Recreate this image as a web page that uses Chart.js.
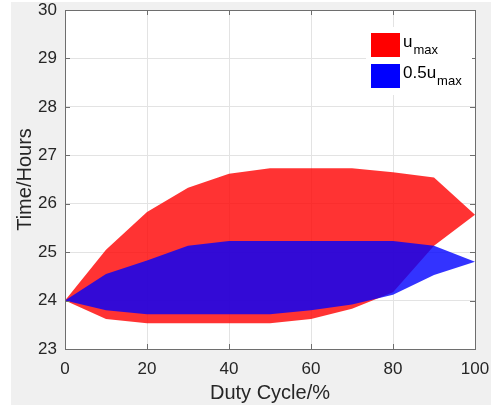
<!DOCTYPE html>
<html>
<head>
<meta charset="utf-8">
<script src="https://cdn.jsdelivr.net/npm/chart.js@4/dist/chart.umd.min.js"></script>
<style>
  html, body { margin:0; padding:0; background:#fff; }
  #wrap { position:relative; width:496px; height:411px; }
  #bg   { position:absolute; left:11px; top:2px; width:480px; height:403px; background:#f0f0f0; }
  #c    { position:absolute; left:0; top:0; }
</style>
</head>
<body>
<div id="wrap">
  <div id="bg"></div>
  <canvas id="c" width="496" height="411"></canvas>
</div>
<script>
/* ── Data ──────────────────────────────────────────────────────── */
const dutyCycle = [0, 10, 20, 30, 40, 50, 60, 70, 80, 90, 100];
const redUpper  = [24, 25.05, 25.83, 26.33, 26.62, 26.73, 26.73, 26.73, 26.65, 26.54, 25.77];
const redLower  = [24, 23.62, 23.53, 23.53, 23.53, 23.53, 23.62, 23.83, 24.17, 25.13, 25.77];
const blueUpper = [24, 24.55, 24.83, 25.13, 25.23, 25.23, 25.23, 25.23, 25.23, 25.13, 24.80];
const blueLower = [24, 23.80, 23.72, 23.72, 23.72, 23.72, 23.80, 23.92, 24.12, 24.53, 24.80];
const xTicks    = [0, 20, 40, 60, 80, 100];
const yTicks    = [23, 24, 25, 26, 27, 28, 29, 30];

const FONT = "'Liberation Sans', Arial, Helvetica, sans-serif";
const INK  = '#262626';
const RED  = 'rgba(255,0,0,0.8)', BLUE = 'rgba(0,0,255,0.8)';

const pts = ys => dutyCycle.map((x, i) => ({ x, y: ys[i] }));
const band = (data, fill, color) => ({
  data: pts(data), fill, backgroundColor: color,
  borderWidth: 0, borderColor: 'transparent', pointRadius: 0, tension: 0
});

/* ── MATLAB-style frame: white plot area, box, inward ticks, legend ── */
const frame = {
  id: 'frame',
  beforeDraw(chart) {
    const { ctx, chartArea: a } = chart;
    ctx.save(); ctx.fillStyle = '#fff';
    ctx.fillRect(a.left, a.top, a.right - a.left, a.bottom - a.top);
    ctx.restore();
  },
  afterDraw(chart) {
    const { ctx, chartArea: a, scales: { x, y } } = chart;
    ctx.save();
    ctx.strokeStyle = '#6e6e6e'; ctx.lineWidth = 1;
    ctx.beginPath();
    yTicks.forEach(v => {
      const py = Math.round(y.getPixelForValue(v)) + 0.5;
      ctx.moveTo(a.left, py);  ctx.lineTo(a.left + 5, py);
      ctx.moveTo(a.right, py); ctx.lineTo(a.right - 5, py);
    });
    xTicks.forEach(v => {
      const px = Math.round(x.getPixelForValue(v)) + 0.5;
      ctx.moveTo(px, a.bottom); ctx.lineTo(px, a.bottom - 5);
      ctx.moveTo(px, a.top);    ctx.lineTo(px, a.top + 5);
    });
    ctx.stroke();
    ctx.strokeRect(Math.round(a.left) + 0.5, Math.round(a.top) + 0.5,
                   Math.round(a.right - a.left), Math.round(a.bottom - a.top));

    // legend
    ctx.fillStyle = '#fff'; ctx.fillRect(366, 27, 106, 68);
    ctx.fillStyle = '#ff0000'; ctx.fillRect(371, 33, 29, 24);
    ctx.fillStyle = '#0000ff'; ctx.fillRect(371, 64, 29, 24);
    ctx.fillStyle = '#000'; ctx.textBaseline = 'alphabetic'; ctx.textAlign = 'left';
    const entry = (main, yb) => {
      ctx.font = '17px ' + FONT; ctx.fillText(main, 403, yb);
      const w = ctx.measureText(main).width;
      ctx.font = '13px ' + FONT; ctx.fillText('max', 403 + w + 1, yb + 7);
    };
    entry('u', 47);
    entry('0.5u', 78);
    ctx.restore();
  }
};

new Chart(document.getElementById('c'), {
  type: 'line',
  data: {
    datasets: [
      band(blueUpper, '+1', BLUE), band(blueLower, false, BLUE),
      band(redUpper,  '+1', RED),  band(redLower,  false, RED)
    ]
  },
  options: {
    responsive: false, animation: false, devicePixelRatio: 1,
    layout: { padding: { left: 0, top: 10, right: 21, bottom: 0 } },
    plugins: { legend: { display: false }, tooltip: { enabled: false } },
    scales: {
      x: {
        type: 'linear', min: 0, max: 100,
        afterBuildTicks: s => { s.ticks = xTicks.map(value => ({ value })); },
        afterFit: s => { s.height = 62; s.paddingLeft = 0; s.paddingRight = 0; },
        grid: { color: '#e3e3e3', drawTicks: false },
        border: { display: false },
        ticks: { color: INK, font: { family: FONT, size: 17, lineHeight: 1.1 }, padding: 11, maxRotation: 0 },
        title: { display: true, text: 'Duty Cycle/%', color: INK, font: { family: FONT, size: 20, lineHeight: 1.2 }, padding: { bottom: 6 } }
      },
      y: {
        min: 23, max: 30,
        afterBuildTicks: s => { s.ticks = yTicks.map(value => ({ value })); },
        afterFit: s => { s.width = 65; s.paddingTop = 0; s.paddingBottom = 0; },
        grid: { color: '#e3e3e3', drawTicks: false },
        border: { display: false },
        ticks: { color: INK, font: { family: FONT, size: 17, lineHeight: 1.1 }, padding: 8 },
        title: { display: true, text: 'Time/Hours', color: INK, font: { family: FONT, size: 20, lineHeight: 1.2 }, padding: { top: 13 } }
      }
    }
  },
  plugins: [frame]
});
</script>
</body>
</html>
